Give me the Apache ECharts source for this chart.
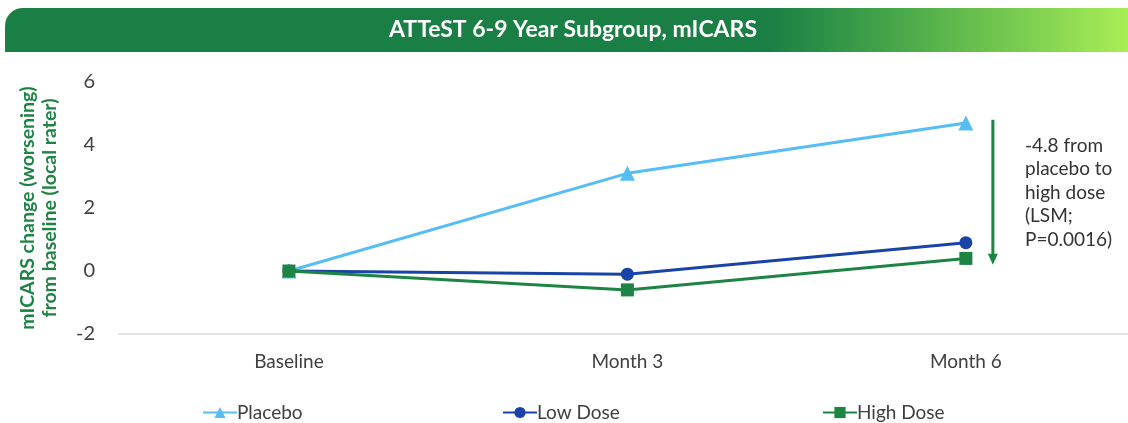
<!DOCTYPE html>
<html>
<head>
<meta charset="utf-8">
<script src="https://cdn.jsdelivr.net/npm/echarts@6/dist/echarts.min.js"></script>
<style>
  html, body { margin: 0; padding: 0; background: #fff; }
  #chart { width: 1128px; height: 423px; }
</style>
</head>
<body>
<div id="chart"></div>
<script>
// 数据
var categories = ['Baseline', 'Month 3', 'Month 6'];
var placebo = [0, 3.1, 4.7];
var lowDose = [0, -0.1, 0.9];
var highDose = [0, -0.6, 0.4];
var yTicks = [-2, 0, 2, 4, 6];
var arrowFrom = 4.8;
var arrowTo = 0.2;

// 类目位置 0,1,2，用数值轴对齐
function pairs(arr) {
  return arr.map(function (v, i) { return [i, v]; });
}

var chart = echarts.init(document.getElementById('chart'));

function legendFor(name, left) {
  return {
    data: [name],
    left: left,
    top: 398,
    itemWidth: 34,
    itemHeight: 14,
    textStyle: { fontFamily: 'Lato', fontSize: 19, color: '#404040', padding: [0, 0, 0, -5] }
  };
}

chart.setOption({
  animation: false,
  textStyle: { fontFamily: 'Lato' },
  legend: [
    legendFor('Placebo', 197),
    legendFor('Low Dose', 497),
    legendFor('High Dose', 817)
  ],
  grid: { left: 119, top: 82, right: 0, height: 252 },
  xAxis: {
    type: 'value',
    min: -0.502,
    max: 2.479,
    splitLine: { show: false },
    axisLine: { onZero: false, lineStyle: { color: '#d9d9d9', width: 1.5 } },
    axisTick: { show: false },
    axisLabel: {
      fontSize: 19, color: '#404040', margin: 18,
      customValues: [0, 1, 2],
      formatter: function (v) { return categories[Math.round(v)]; }
    }
  },
  yAxis: {
    type: 'value',
    min: yTicks[0],
    max: yTicks[yTicks.length - 1],
    interval: 2,
    splitLine: { show: false },
    axisLine: { show: false },
    axisTick: { show: false },
    axisLabel: { fontSize: 20, color: '#404040', margin: 24 },
    name: 'mICARS change (worsening)\nfrom baseline (local rater)',
    nameLocation: 'middle',
    nameRotate: 90,
    nameGap: 58,
    nameTextStyle: { fontSize: 19.5, fontWeight: 'bold', color: '#1e8444', lineHeight: 22 }
  },
  series: [
    {
      name: 'Placebo', type: 'line', data: pairs(placebo),
      symbol: 'triangle', symbolSize: 15,
      lineStyle: { width: 3, color: '#56bdf5' },
      itemStyle: { color: '#56bdf5' }, z: 2
    },
    {
      name: 'Low Dose', type: 'line', data: pairs(lowDose),
      symbol: 'circle', symbolSize: 13,
      lineStyle: { width: 3, color: '#1a43a8' },
      itemStyle: { color: '#1a43a8' }, z: 3
    },
    {
      name: 'High Dose', type: 'line', data: pairs(highDose),
      symbol: 'rect', symbolSize: 13,
      lineStyle: { width: 3, color: '#1e8444' },
      itemStyle: { color: '#1e8444' }, z: 4
    }
  ]
});

// 标题和箭头
var p1 = chart.convertToPixel({ gridIndex: 0 }, [2, arrowFrom]);
var p2 = chart.convertToPixel({ gridIndex: 0 }, [2, arrowTo]);
var ax = p1[0] + 27;

chart.setOption({
  graphic: [
    {
      type: 'rect',
      shape: { x: 5, y: 8, width: 1123, height: 44, r: [18, 0, 0, 0] },
      style: {
        fill: new echarts.graphic.LinearGradient(0, 0, 1, 0, [
          { offset: 0, color: '#1a7f45' },
          { offset: 0.68, color: '#1a7f45' },
          { offset: 0.8, color: '#4aa94a' },
          { offset: 1, color: '#a8ee56' }
        ])
      }
    },
    {
      type: 'text', x: 573, y: 30,
      style: {
        text: 'ATTeST 6-9 Year Subgroup, mICARS',
        fill: '#fff', font: 'bold 23px Lato',
        align: 'center', verticalAlign: 'middle'
      }
    },
    {
      type: 'line',
      shape: { x1: ax, y1: p1[1], x2: ax, y2: p2[1] - 8 },
      style: { stroke: '#1e8444', lineWidth: 3 }
    },
    {
      type: 'polygon',
      shape: { points: [[ax - 5, p2[1] - 11], [ax + 5, p2[1] - 11], [ax, p2[1]]] },
      style: { fill: '#1e8444' }
    },
    {
      type: 'text', x: 1025, y: 134,
      style: {
        text: '-4.8 from\nplacebo to\nhigh dose\n(LSM;\nP=0.0016)',
        fill: '#333', font: '19px Lato', lineHeight: 23.5
      }
    }
  ]
});
</script>
</body>
</html>
